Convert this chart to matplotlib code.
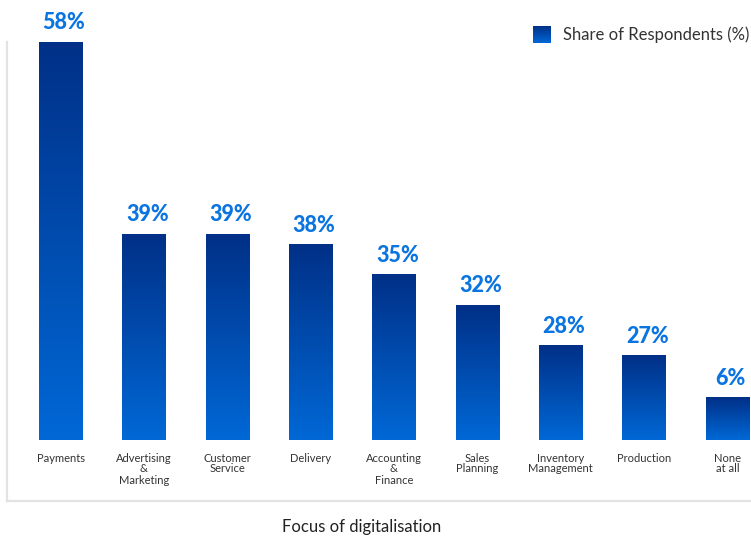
import numpy as np
import matplotlib.pyplot as plt
from matplotlib.colors import LinearSegmentedColormap
from matplotlib.lines import Line2D

plt.rcParams['font.family'] = ['Lato', 'DejaVu Sans']

categories = ["Payments", "Advertising\n&\nMarketing", "Customer\nService", "Delivery",
              "Accounting\n&\nFinance", "Sales\nPlanning", "Inventory\nManagement",
              "Production", "None\nat all"]
shares = [58, 39, 39, 38, 35, 32, 28, 27, 6]

W, H = 751, 538
fig = plt.figure(figsize=(W / 100, H / 100), dpi=100)

# plot area in pixel coordinates
px_left, px_right, px_top, px_base = 7, 751, 42, 440
ax = fig.add_axes([px_left / W, 1 - px_base / H, (px_right - px_left) / W, (px_base - px_top) / H])

ymin, ymax = 18.7, 58
min_len = 4.15  # shortest bar drawn, in data units
bar_w = 0.516

grad = LinearSegmentedColormap.from_list("pp", ["#0068d6", "#003087"])
g = np.linspace(0, 1, 256).reshape(-1, 1)

for i, v in enumerate(shares):
    top = max(v, ymin + min_len)
    ax.imshow(g, cmap=grad, origin='lower', aspect='auto', interpolation='bilinear',
              extent=(i - bar_w / 2, i + bar_w / 2, ymin, top), zorder=2)
    ax.annotate(f"{v}%", (i, top), xytext=(2.5, 6.5), textcoords='offset points',
                ha='center', va='bottom', fontsize=15.5, fontweight='black', color='#0a74e0')

ax.set_xlim(-0.642, 8.284)
ax.set_ylim(ymin, ymax)
ax.set_xticks(range(len(categories)))
ax.set_xticklabels(categories, fontsize=8, color='#333333', linespacing=1.0, va='top')
ax.tick_params(axis='x', length=0, pad=9)
ax.set_yticks([])
for s in ax.spines.values():
    s.set_visible(False)

# frame lines on the left and along the bottom
fig.add_artist(Line2D([px_left / W, px_left / W], [1 - 42 / H, 1 - 501 / H],
                      color='#e3e3e3', lw=1.6, transform=fig.transFigure))
fig.add_artist(Line2D([px_left / W, 1.0], [1 - 501 / H, 1 - 501 / H],
                      color='#e3e3e3', lw=1.6, transform=fig.transFigure))

# legend
lax = fig.add_axes([533 / W, 1 - 43 / H, 18 / W, 17 / H])
lax.imshow(g, cmap=grad, origin='lower', aspect='auto', interpolation='bilinear')
lax.axis('off')
fig.text(563 / W, 1 - 35 / H, "Share of Respondents (%)", fontsize=12,
         color='#333333', va='center', ha='left')

fig.text(361.5 / W, 1 - 527 / H, "Focus of digitalisation", fontsize=12,
         color='#222222', ha='center', va='center')

fig.savefig("out.png", dpi=100)
